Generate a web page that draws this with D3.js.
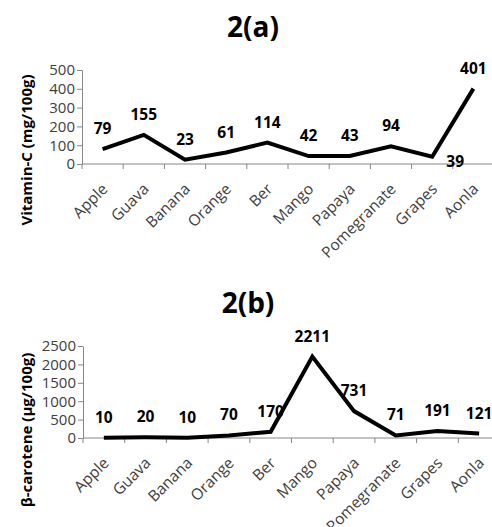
<!DOCTYPE html>
<html>
<head>
<meta charset="utf-8">
<script src="https://cdnjs.cloudflare.com/ajax/libs/d3/7.8.5/d3.min.js"></script>
<style>
  body { margin: 0; background: #fff; }
  svg { display: block; font-family: "Open Sans", sans-serif; }
</style>
</head>
<body>
<div id="chart"></div>
<script>
// Data
const fruits = ["Apple", "Guava", "Banana", "Orange", "Ber", "Mango", "Papaya", "Pomegranate", "Grapes", "Aonla"];
const vitaminC = [79, 155, 23, 61, 114, 42, 43, 94, 39, 401];
const betaCarotene = [10, 20, 10, 70, 170, 2211, 731, 71, 191, 121];
const vitaminCTicks = [0, 100, 200, 300, 400, 500];
const betaCaroteneTicks = [0, 500, 1000, 1500, 2000, 2500];

const svg = d3
  .select("#chart")
  .append("svg")
  .attr("width", 492)
  .attr("height", 527);

function drawPanel(opts) {
  const g = svg.append("g");

  // Scales
  const x = d3.scaleBand().domain(fruits).range([opts.left, opts.right]);
  const y = d3
    .scaleLinear()
    .domain([0, d3.max(opts.ticks)])
    .range([opts.bottom, opts.top]);

  // Title
  g.append("text")
    .attr("x", opts.titleX)
    .attr("y", opts.titleY)
    .attr("text-anchor", "middle")
    .style("font-size", "28px")
    .style("font-weight", "bold")
    .text(opts.title);

  // Y axis
  const yAxis = g
    .append("g")
    .attr("transform", `translate(${opts.left},0)`)
    .call(
      d3.axisLeft(y)
        .tickValues(opts.ticks)
        .tickFormat(d3.format("d"))
        .tickSize(5)
        .tickSizeOuter(0)
    );
  yAxis.selectAll("path, line").attr("stroke", "#868686");
  yAxis
    .selectAll("text")
    .attr("fill", "#404040")
    .style("font-size", "15px")
    .style("font-family", "Open Sans")
    .attr("x", -7);

  // X axis line + boundary ticks
  g.append("line")
    .attr("x1", opts.left)
    .attr("x2", opts.right)
    .attr("y1", opts.bottom)
    .attr("y2", opts.bottom)
    .attr("stroke", "#868686");
  g.selectAll(".xtick")
    .data(fruits)
    .enter()
    .append("line")
    .attr("x1", (d) => x(d))
    .attr("x2", (d) => x(d))
    .attr("y1", opts.bottom)
    .attr("y2", opts.bottom + 5)
    .attr("stroke", "#868686");

  // X labels, rotated
  g.selectAll(".xlab")
    .data(fruits)
    .enter()
    .append("text")
    .attr(
      "transform",
      (d) => `translate(${x(d) + x.bandwidth() / 2 + 6},${opts.bottom + 26}) rotate(-45)`
    )
    .attr("text-anchor", "end")
    .attr("fill", "#404040")
    .style("font-size", "15.5px")
    .text((d) => d);

  // Y axis title
  g.append("text")
    .attr("transform", `translate(${opts.labelX},${opts.labelY}) rotate(-90)`)
    .attr("text-anchor", "middle")
    .attr("dy", "0.35em")
    .style("font-size", "15px")
    .style("font-weight", "bold")
    .text(opts.yLabel);

  // Line
  const line = d3
    .line()
    .x((d, i) => x(fruits[i]) + x.bandwidth() / 2)
    .y((d) => y(d));
  g.append("path")
    .datum(opts.values)
    .attr("fill", "none")
    .attr("stroke", "#000")
    .attr("stroke-width", 4)
    .attr("d", line);

  // Data labels
  g.selectAll(".vlab")
    .data(opts.values)
    .enter()
    .append("text")
    .attr("x", (d, i) => x(fruits[i]) + x.bandwidth() / 2 + (opts.moved === i ? 23 : 0))
    .attr("y", (d) => y(d))
    .attr("dy", (d, i) => (opts.moved === i ? 4 : -21))
    .attr("text-anchor", "middle")
    .attr("dominant-baseline", "central")
    .style("font-size", "15.5px")
    .style("font-weight", "bold")
    .text((d) => d);
}

drawPanel({
  title: "2(a)",
  titleX: 253,
  titleY: 37,
  values: vitaminC,
  ticks: vitaminCTicks,
  yLabel: "Vitamin-C (mg/100g)",
  left: 82,
  right: 494,
  top: 70,
  bottom: 164,
  labelX: 27,
  labelY: 150,
  moved: 8
});

drawPanel({
  title: "2(b)",
  titleX: 248,
  titleY: 313,
  values: betaCarotene,
  ticks: betaCaroteneTicks,
  yLabel: "β-carotene (µg/100g)",
  left: 83,
  right: 500,
  top: 346,
  bottom: 438,
  labelX: 27,
  labelY: 430,
  moved: -1
});
</script>
</body>
</html>
